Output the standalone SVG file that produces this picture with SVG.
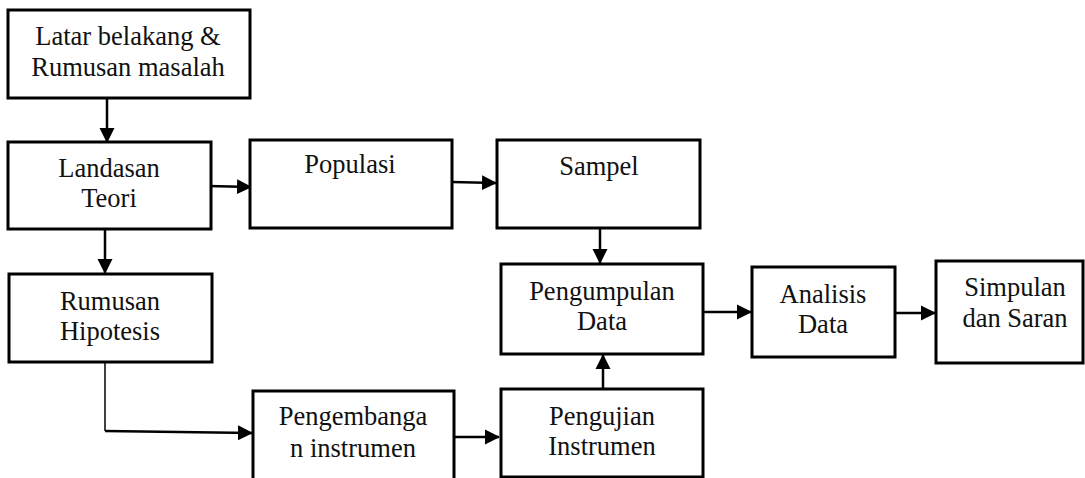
<svg xmlns="http://www.w3.org/2000/svg" width="1085" height="478" viewBox="0 0 1085 478">
<style>
.box{fill:#fff;stroke:#000;stroke-width:3}
.t{font-family:"Liberation Serif","Times New Roman",serif;font-size:26.5px;fill:#111;text-anchor:middle}
.c{fill:none;stroke:#000;stroke-width:2.5}
.thin{fill:none;stroke:#000;stroke-width:1.5}
</style>
<defs>
<marker id="ah" markerUnits="userSpaceOnUse" markerWidth="16" markerHeight="16" refX="14" refY="8" orient="auto">
<path d="M0,0.5 L15,8 L0,15.5 Z" fill="#000"/>
</marker>
</defs>
<g id="connectors">
<line class="c" x1="107" y1="98" x2="107" y2="142" marker-end="url(#ah)"/>
<line class="c" x1="105" y1="229" x2="105" y2="273" marker-end="url(#ah)"/>
<line class="c" x1="208" y1="186" x2="251" y2="187" marker-end="url(#ah)"/>
<line class="c" x1="452" y1="182" x2="496" y2="183" marker-end="url(#ah)"/>
<line class="c" x1="600" y1="228" x2="600" y2="263" marker-end="url(#ah)"/>
<line class="c" x1="703" y1="312" x2="751" y2="312" marker-end="url(#ah)"/>
<line class="c" x1="895" y1="313" x2="935" y2="313" marker-end="url(#ah)"/>
<line class="c" x1="603" y1="389" x2="603" y2="355" marker-end="url(#ah)"/>
<line class="c" x1="454" y1="437" x2="499" y2="437" marker-end="url(#ah)"/>
<polyline class="thin" points="105,362 105,431"/>
<line class="c" x1="105" y1="431" x2="252" y2="433" marker-end="url(#ah)"/>
</g>
<g id="latar">
<rect class="box" x="8" y="10" width="242" height="88"/>
<text class="t" x="128" y="45">Latar belakang &amp;</text>
<text class="t" x="128" y="76">Rumusan masalah</text>
</g>
<g id="landasan">
<rect class="box" x="8" y="142" width="203" height="87"/>
<text class="t" x="109" y="177">Landasan</text>
<text class="t" x="109" y="207">Teori</text>
</g>
<g id="populasi">
<rect class="box" x="250" y="140" width="202" height="88"/>
<text class="t" x="350" y="173">Populasi</text>
</g>
<g id="sampel">
<rect class="box" x="497" y="140" width="203" height="88"/>
<text class="t" x="599" y="175">Sampel</text>
</g>
<g id="rumusan">
<rect class="box" x="9" y="274" width="203" height="88"/>
<text class="t" x="110" y="310">Rumusan</text>
<text class="t" x="110" y="340">Hipotesis</text>
</g>
<g id="pengumpulan">
<rect class="box" x="501" y="264" width="202" height="90"/>
<text class="t" x="602" y="300">Pengumpulan</text>
<text class="t" x="602" y="330">Data</text>
</g>
<g id="analisis">
<rect class="box" x="752" y="267" width="143" height="90"/>
<text class="t" x="823" y="303">Analisis</text>
<text class="t" x="823" y="333">Data</text>
</g>
<g id="simpulan">
<rect class="box" x="936" y="261" width="147" height="102"/>
<text class="t" x="1015" y="296">Simpulan</text>
<text class="t" x="1015" y="327">dan Saran</text>
</g>
<g id="pengembangan">
<rect class="box" x="253" y="391" width="201" height="92"/>
<text class="t" x="353" y="425">Pengembanga</text>
<text class="t" x="353" y="457">n instrumen</text>
</g>
<g id="pengujian">
<rect class="box" x="501" y="389" width="202" height="88"/>
<text class="t" x="602" y="425">Pengujian</text>
<text class="t" x="602" y="455">Instrumen</text>
</g>
</svg>
